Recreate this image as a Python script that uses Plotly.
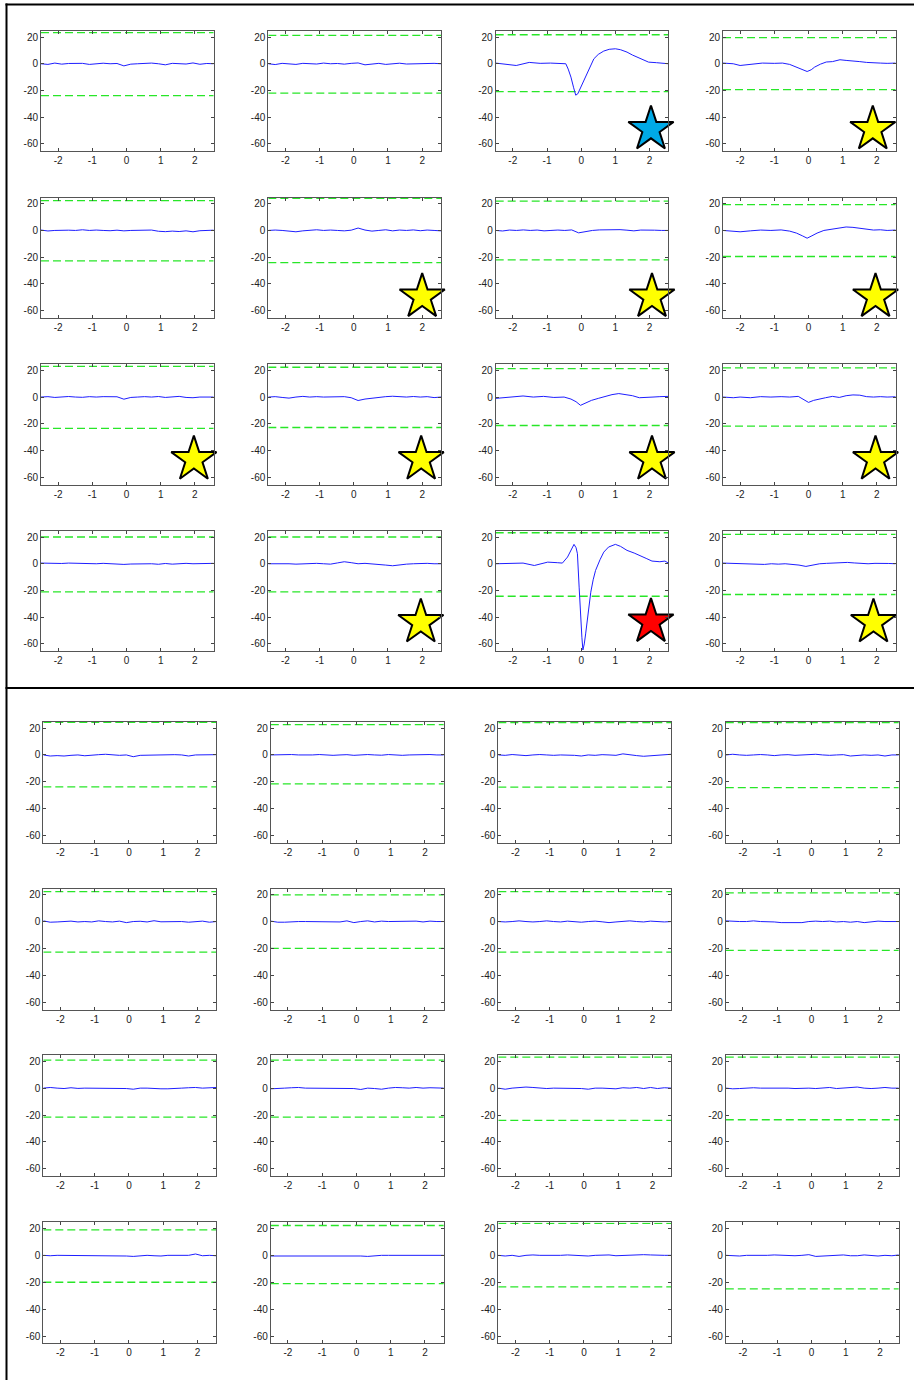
import numpy as np
import plotly.graph_objects as go

# ---------------------------------------------------------------------------
# Data: 2 groups x 16 channels of averaged waveforms (microvolts vs seconds)
# ---------------------------------------------------------------------------
x_ticks = [-2, -1, 0, 1, 2]
x_tick_text = ["-2", "-1", "0", "1", "2"]
y_ticks = [-60, -40, -20, 0, 20]
y_tick_text = ["-60", "-40", "-20", "0", "20"]

# common sample times for the quiet channels
t_grid = np.round(np.linspace(-2.5, 2.55, 26), 3)

# ---- group A (upper block) ----
a01 = [0.0, -0.5, 0.5, -0.3, 0.2, 0.0, 0.3, -0.5, 0.0, 0.4, 0.0, 0.2, -1.6,
       -0.3, 0.0, 0.2, 0.5, 0.0, -0.8, 0.3, 0.0, -0.2, 0.6, -0.4, 0.2, 0.0]
a02 = [0.0, -0.6, 0.3, 0.0, -0.5, 0.3, 0.0, -0.2, 0.5, 0.0, 0.2, -0.3, 0.3,
       0.6, -0.8, -0.2, 0.3, -0.5, 0.0, 0.4, -0.2, 0.0, 0.2, 0.0, 0.3, 0.0]
a03_t = [-2.5, -2.2, -1.9, -1.52, -1.2, -0.9, -0.6, -0.45, -0.38, -0.3, -0.22,
         -0.16, -0.1, -0.02, 0.08, 0.18, 0.28, 0.37, 0.5, 0.66, 0.82, 1.0,
         1.15, 1.34, 1.5, 1.63, 1.8, 1.97, 2.2, 2.4, 2.55]
a03 = [0.5, -0.3, -1.3, 1.0, 0.3, 0.5, 0.3, 0.0, -4.0, -10.0, -18.0, -23.5,
       -22.5, -18.0, -13.0, -8.0, -2.0, 3.7, 7.0, 9.5, 10.8, 11.2, 10.5, 8.7,
       6.5, 5.0, 3.2, 1.2, 0.8, 0.5, 0.0]
a04_t = [-2.5, -2.2, -2.0, -1.7, -1.35, -1.0, -0.76, -0.55, -0.36, -0.2, -0.04,
         0.08, 0.18, 0.35, 0.52, 0.7, 0.92, 1.1, 1.3, 1.5, 1.7, 1.9, 2.1, 2.3,
         2.55]
a04 = [0.5, 0.0, -1.3, -0.5, 0.5, 0.3, 0.5, -0.5, -2.5, -4.2, -5.8, -4.5,
       -2.5, -0.3, 1.3, 1.6, 3.0, 2.5, 1.8, 1.6, 1.0, 0.5, 0.5, 0.3, 0.5]
a05 = [0.3, -0.4, 0.0, 0.3, 0.2, 0.0, 0.5, 0.0, 0.3, 0.0, -0.2, 0.2, -0.3,
       0.0, 0.2, 0.0, 0.3, -0.6, -0.9, -0.5, -0.8, -0.3, -1.0, -0.2, 0.0, 0.2]
a06 = [0.0, 0.3, 0.0, -0.5, -1.0, -0.3, 0.2, 0.5, 0.0, 0.3, 0.0, -0.3, 0.2,
       1.8, 0.3, -0.5, 0.0, 0.5, -0.3, 0.3, 0.0, 0.4, -0.2, 0.3, 0.0, -0.3]
a07 = [0.0, -0.4, 0.3, 0.0, 0.4, 0.0, 0.3, -0.3, 0.0, 0.3, 0.0, 0.4, -1.8,
       -0.8, 0.0, 0.4, 0.6, 0.3, 0.6, 0.2, -0.3, 0.3, 0.0, 0.2, 0.0, 0.0]
a08_t = [-2.5, -2.2, -2.0, -1.7, -1.4, -1.1, -0.8, -0.55, -0.35, -0.18, -0.04,
         0.1, 0.25, 0.45, 0.7, 0.9, 1.1, 1.3, 1.5, 1.7, 1.9, 2.1, 2.3, 2.55]
a08 = [0.0, -0.3, -1.0, -0.3, 0.3, 0.0, 0.4, -0.5, -2.0, -4.0, -5.8, -4.0,
       -2.0, 0.0, 1.0, 2.0, 2.6, 2.3, 1.5, 0.8, 0.3, 0.5, 0.0, 0.3]
a09 = [0.0, 0.3, -0.3, 0.0, 0.4, 0.0, -0.2, 0.3, 0.0, 0.3, 0.0, 0.2, -1.6,
       -0.3, 0.0, 0.3, 0.0, 0.4, -0.3, 0.0, 0.5, -0.3, -0.5, 0.0, -0.2, 0.0]
a10 = [0.0, 0.3, -0.3, -0.8, 0.0, 0.5, 0.0, 0.3, 0.0, 0.2, 0.0, 0.3, -0.5,
       -2.6, -1.5, -0.8, -0.5, 0.3, 0.6, 0.2, 0.0, 0.4, 0.0, 0.3, -0.4, 0.0]
a11_t = [-2.5, -2.3, -2.0, -1.7, -1.4, -1.1, -0.8, -0.5, -0.3, -0.15, -0.02,
         0.12, 0.3, 0.5, 0.7, 0.9, 1.1, 1.3, 1.5, 1.7, 1.9, 2.1, 2.3, 2.55]
a11 = [-1.0, -0.5, 0.0, 0.8, 0.0, 0.5, -0.3, 0.0, -1.5, -3.5, -6.2, -4.5,
       -2.5, -1.0, 0.5, 1.8, 2.6, 2.0, 1.0, -0.5, -0.5, 0.0, 0.3, 0.5]
a12_t = [-2.5, -2.2, -2.0, -1.7, -1.4, -1.1, -0.8, -0.55, -0.3, -0.12, 0.0,
         0.15, 0.3, 0.5, 0.7, 0.9, 1.1, 1.3, 1.5, 1.7, 1.9, 2.1, 2.3, 2.55]
a12 = [0.0, -0.5, 0.0, -0.5, 0.3, 0.0, 0.3, 0.0, 0.5, -2.0, -4.0, -2.5,
       -1.5, -0.5, 0.5, -0.3, 1.0, 1.6, 1.4, 0.3, 0.0, 0.3, 0.0, 0.2]
a13 = [0.5, 0.3, 0.0, 0.2, 0.5, 0.3, 0.6, 0.2, 0.0, 0.3, 0.0, -0.3, -0.5,
       -0.2, 0.0, -0.3, 0.0, -0.4, 0.2, -0.3, 0.0, 0.3, 0.0, 0.2, 0.0, 0.3]
a14 = [0.0, 0.0, 0.3, 0.0, -0.3, 0.0, 0.0, 0.3, 0.0, -0.3, 0.6, 1.5, 0.8,
       0.0, 0.3, 0.0, -0.5, -1.0, -1.5, -0.8, -0.3, 0.0, 0.2, 0.3, 0.0, 0.0]
a15_t = [-2.5, -2.1, -1.7, -1.37, -1.2, -0.98, -0.7, -0.55, -0.4, -0.3, -0.21,
         -0.15, -0.11, -0.06, -0.02, 0.02, 0.05, 0.09, 0.13, 0.2, 0.28, 0.35,
         0.42, 0.55, 0.66, 0.8, 1.0, 1.15, 1.34, 1.55, 1.73, 1.9, 2.07, 2.3,
         2.45, 2.55]
a15 = [0.0, 0.0, 0.5, -1.3, 0.0, 1.2, 0.8, 0.5, 5.0, 10.0, 14.5, 12.0, 7.5,
       -17.5, -40.0, -55.0, -64.5, -60.0, -52.5, -36.0, -21.3, -12.0, -5.0,
       3.0, 8.7, 12.5, 14.5, 13.0, 10.0, 8.0, 6.2, 4.0, 2.0, 1.5, 2.0, 0.5]
a16 = [0.5, 0.3, 0.0, -0.2, -0.5, -0.3, -0.5, 0.0, -0.3, 0.0, -0.3, -1.0,
       -2.0, -1.0, 0.0, 0.3, 0.5, 0.8, 1.0, 0.6, 0.3, 0.0, 0.3, 0.0, 0.2, 0.0]

a_upper = [23.3, 21.2, 21.7, 19.5, 22.3, 24.0, 22.0, 19.3,
           23.0, 22.3, 21.3, 21.8, 20.0, 20.0, 23.2, 22.0]
a_lower = [-23.8, -22.0, -20.8, -19.3, -22.8, -24.0, -22.0, -19.5,
           -23.5, -22.8, -21.3, -21.8, -21.0, -21.0, -24.3, -23.0]

# detection class per channel of group A (None = not flagged)
a_flag = [None, None, "onset", "spread",
          None, "spread", "spread", "spread",
          "spread", "spread", "spread", "spread",
          None, "spread", "focus", "spread"]
a_flag_t = [None, None, 2.04, 1.88, None, 2.0, 2.07, 1.96,
            1.97, 1.97, 2.07, 1.96, None, 1.96, 2.04, 1.9]
a_flag_v = [None, None, -49.0, -49.0, None, -49.7, -49.7, -49.7,
            -46.7, -46.7, -46.7, -46.7, None, -43.8, -43.5, -43.8]

# ---- group B (lower block) ----
b01 = [0.0, -0.8, -0.5, -0.8, -0.3, 0.0, -0.6, 0.0, 0.2, 0.5, 0.0, -0.3, 0.0,
       -1.3, -0.3, -0.2, 0.0, 0.3, 0.0, 0.2, 0.0, -0.8, 0.0, 0.2, 0.0, 0.2]
b02 = [0.0, 0.2, 0.0, 0.3, 0.0, -0.2, 0.0, 0.3, 0.0, -0.3, 0.0, 0.2, -0.3,
       0.0, 0.3, 0.0, -0.2, 0.3, 0.0, -0.3, 0.0, 0.2, 0.0, 0.3, 0.0, 0.0]
b03 = [0.0, -0.3, 0.3, 0.0, -0.5, 0.0, 0.3, 0.0, -0.3, 0.0, 0.0, -0.3, -0.8,
       0.0, -0.3, 0.2, 0.0, -0.3, 0.8, 0.0, -0.5, -1.0, -0.6, 0.0, 0.0, 0.5]
b04 = [0.0, 0.5, 0.0, -0.3, 0.0, 0.3, 0.0, -0.5, 0.0, 0.2, -0.3, 0.0, 0.0,
       0.5, 0.0, -0.3, 0.0, 0.2, -0.8, -0.3, 0.0, -0.3, 0.0, -0.8, 0.0, 0.0]
b05 = [0.5, -0.5, -0.3, 0.0, 0.3, -0.3, 0.0, -0.3, 0.5, 0.0, -0.3, 0.3, -0.8,
       0.0, 0.2, -0.3, 0.6, -0.2, 0.0, 0.3, 0.0, -0.5, 0.0, 0.3, -0.5, 0.0]
b06 = [0.3, -0.5, -0.5, 0.0, 0.0, 0.0, 0.0, -0.3, -0.5, 0.0, -0.3, 0.5, -0.8,
       0.0, 0.5, -0.3, 0.3, 0.0, 0.0, 0.5, 0.0, 0.3, -0.3, 0.3, 0.0, 0.0]
b07 = [0.0, -0.3, 0.0, 0.5, 0.0, -0.3, 0.0, 0.5, 0.0, -0.3, 0.3, 0.0, -0.5,
       0.0, 0.3, -0.2, -0.8, -0.3, 0.0, 0.5, 0.0, -0.3, 0.3, 0.0, -0.3, 0.0]
b08 = [0.5, 0.0, 0.0, 0.0, 0.5, 0.0, 0.0, -0.3, -0.8, -0.8, -0.5, -0.8, 0.0,
       0.3, 0.0, 0.3, -0.3, 0.0, -0.5, 0.0, -0.8, 0.0, 0.3, 0.0, 0.0, 0.0]
b09 = [0.0, 0.5, 0.0, -0.3, 0.3, -0.2, 0.0, 0.0, -0.2, 0.0, 0.0, 0.0, -0.3,
       -0.8, 0.0, 0.0, -0.5, -0.5, -0.5, 0.0, 0.0, 0.3, 0.5, 0.0, 0.0, 0.5]
b10 = [-0.5, -0.5, 0.0, 0.3, 0.5, 0.0, 0.0, -0.3, 0.0, 0.0, -0.5, 0.0, -0.3,
       -1.0, 0.0, -0.3, -0.8, 0.0, 0.5, 0.3, 0.0, 0.5, 0.0, 0.3, 0.0, 0.0]
b11 = [0.0, -0.8, 0.0, 0.5, 0.8, 0.5, 0.0, -0.3, 0.0, 0.0, -0.5, 0.0, -0.3,
       -0.8, 0.0, 0.0, 0.0, -0.5, 0.3, 0.0, 0.5, -0.3, 0.5, -0.3, 0.3, 0.0]
b12 = [0.0, -0.5, -0.3, 0.0, 0.3, 0.0, 0.0, 0.0, 0.5, 0.0, -0.3, 0.0, 0.0,
       -0.3, 0.0, 0.5, -0.3, 0.0, 0.3, 0.8, 0.0, -0.3, 0.0, 0.5, 0.0, 0.0]
b13 = [0.0, -0.3, 0.0, 0.0, -0.3, 0.0, 0.0, 0.0, 0.0, 0.0, -0.3, -0.3, -0.5,
       -0.8, -0.3, 0.0, -0.3, -0.5, 0.0, 0.0, 0.0, 0.0, 1.0, -0.3, 0.0, -0.3]
b14 = [-0.5, -0.5, -0.3, 0.0, -0.3, 0.0, 0.0, -0.3, 0.0, 0.0, 0.0, -0.3, 0.0,
       -0.5, -0.8, -0.3, 0.0, 0.0, 0.0, 0.3, 0.0, 0.3, 0.0, 0.0, 0.3, 0.0]
b15 = [0.0, -0.5, 0.0, -0.8, 0.0, 0.3, 0.0, 0.0, -0.3, 0.0, 0.3, 0.0, -0.3,
       -0.5, 0.0, 0.0, 0.3, -0.3, 0.0, 0.0, 0.3, 0.5, 0.3, 0.0, 0.0, 0.0]
b16 = [0.0, -0.3, -0.5, 0.0, 0.0, -0.3, 0.0, 0.3, 0.0, 0.0, -0.3, 0.0, 0.5,
       -0.8, -0.5, 0.0, 0.0, 0.3, -0.3, -0.3, 0.3, 0.0, -0.5, 0.0, -0.3, 0.3]

b_upper = [24.2, 22.6, 24.0, 24.0, 22.3, 19.8, 22.3, 21.3,
           20.8, 20.8, 23.0, 23.0, 19.0, 22.2, 23.8, 25.5]
b_lower = [-23.8, -21.5, -24.0, -24.3, -22.8, -20.0, -22.8, -21.5,
           -21.5, -21.5, -24.0, -23.5, -20.0, -21.0, -23.5, -25.0]

# ---------------------------------------------------------------------------
# Assemble channels: (times, values) per panel
# ---------------------------------------------------------------------------
group_a = [(t_grid, a01), (t_grid, a02), (a03_t, a03), (a04_t, a04),
           (t_grid, a05), (t_grid, a06), (t_grid, a07), (a08_t, a08),
           (t_grid, a09), (t_grid, a10), (a11_t, a11), (a12_t, a12),
           (t_grid, a13), (t_grid, a14), (a15_t, a15), (t_grid, a16)]
group_b = [(t_grid, v) for v in (b01, b02, b03, b04, b05, b06, b07, b08,
                                  b09, b10, b11, b12, b13, b14, b15, b16)]

W, H = 914, 1380
X_RANGE = [-2.5, 2.55]
Y_RANGE = [-65.5, 24.5]

# panel geometry in pixels (left, top) for each block
blocks = [
    dict(series=group_a, upper=a_upper, lower=a_lower,
         lefts=[41, 268.3, 495.7, 723], tops=[31, 197.7, 364.3, 531],
         w=172.7, h=120.3),
    dict(series=group_b, upper=b_upper, lower=b_lower,
         lefts=[43.3, 270.8, 498.3, 725.8], tops=[722, 888.6, 1055.2, 1222.4],
         w=173.0, h=121.0),
]

flag_style = {
    "onset": "#00a9e6",
    "spread": "#ffff00",
    "focus": "#ff0000",
}

fig = go.Figure()
layout = dict(
    width=W, height=H,
    margin=dict(l=0, r=0, t=0, b=0),
    paper_bgcolor="white", plot_bgcolor="white",
    showlegend=False,
)

tick_font = dict(family="Liberation Sans, Arial, sans-serif", size=10,
                 color="#222222")
green = "rgb(40,230,40)"
blue = "rgb(30,30,255)"

k = 0
for bi, blk in enumerate(blocks):
    for r in range(4):
        for c in range(4):
            k += 1
            idx = r * 4 + c
            left = blk["lefts"][c]
            top = blk["tops"][r]
            xd = [left / W, (left + blk["w"]) / W]
            yd = [1 - (top + blk["h"]) / H, 1 - top / H]
            sfx = "" if k == 1 else str(k)
            xa, ya = "x" + sfx, "y" + sfx
            layout["xaxis" + sfx] = dict(
                domain=xd, anchor=ya, range=X_RANGE,
                tickvals=x_ticks, ticktext=x_tick_text,
                ticks="inside", ticklen=3, tickcolor="#444444",
                showline=True, linecolor="#555555", linewidth=1,
                mirror="ticks", showgrid=False, zeroline=False,
                tickfont=tick_font,
            )
            layout["yaxis" + sfx] = dict(
                domain=yd, anchor=xa, range=Y_RANGE,
                tickvals=y_ticks, ticktext=y_tick_text,
                ticks="inside", ticklen=3, tickcolor="#444444",
                showline=True, linecolor="#555555", linewidth=1,
                mirror="ticks", showgrid=False, zeroline=False,
                tickfont=tick_font,
            )
            # detection thresholds
            for lvl in (blk["upper"][idx], blk["lower"][idx]):
                fig.add_trace(go.Scatter(
                    x=X_RANGE, y=[lvl, lvl], mode="lines",
                    line=dict(color=green, width=1.3, dash="8px,4px"),
                    xaxis=xa, yaxis=ya, hoverinfo="skip",
                ))
            # averaged waveform
            tt, vv = blk["series"][idx]
            fig.add_trace(go.Scatter(
                x=list(tt), y=vv, mode="lines",
                line=dict(color=blue, width=1),
                xaxis=xa, yaxis=ya,
            ))
            # flagged channels
            if bi == 0 and a_flag[idx] is not None:
                fig.add_trace(go.Scatter(
                    x=[a_flag_t[idx]], y=[a_flag_v[idx]], mode="markers",
                    marker=dict(symbol="star", size=34,
                                color=flag_style[a_flag[idx]],
                                line=dict(color="black", width=2)),
                    cliponaxis=False, xaxis=xa, yaxis=ya,
                ))

# frame lines around / between the two blocks
def px(x):
    return x / W


def py(y):
    return 1 - y / H


layout["shapes"] = [
    dict(type="line", xref="paper", yref="paper",
         x0=px(5.5), x1=px(914), y0=py(4.5), y1=py(4.5),
         line=dict(color="black", width=2)),
    dict(type="line", xref="paper", yref="paper",
         x0=px(6.5), x1=px(6.5), y0=py(3.5), y1=py(1380),
         line=dict(color="black", width=2)),
    dict(type="line", xref="paper", yref="paper",
         x0=px(5.5), x1=px(914), y0=py(688), y1=py(688),
         line=dict(color="black", width=2)),
]

fig.update_layout(**layout)
fig.write_html("out.html")
